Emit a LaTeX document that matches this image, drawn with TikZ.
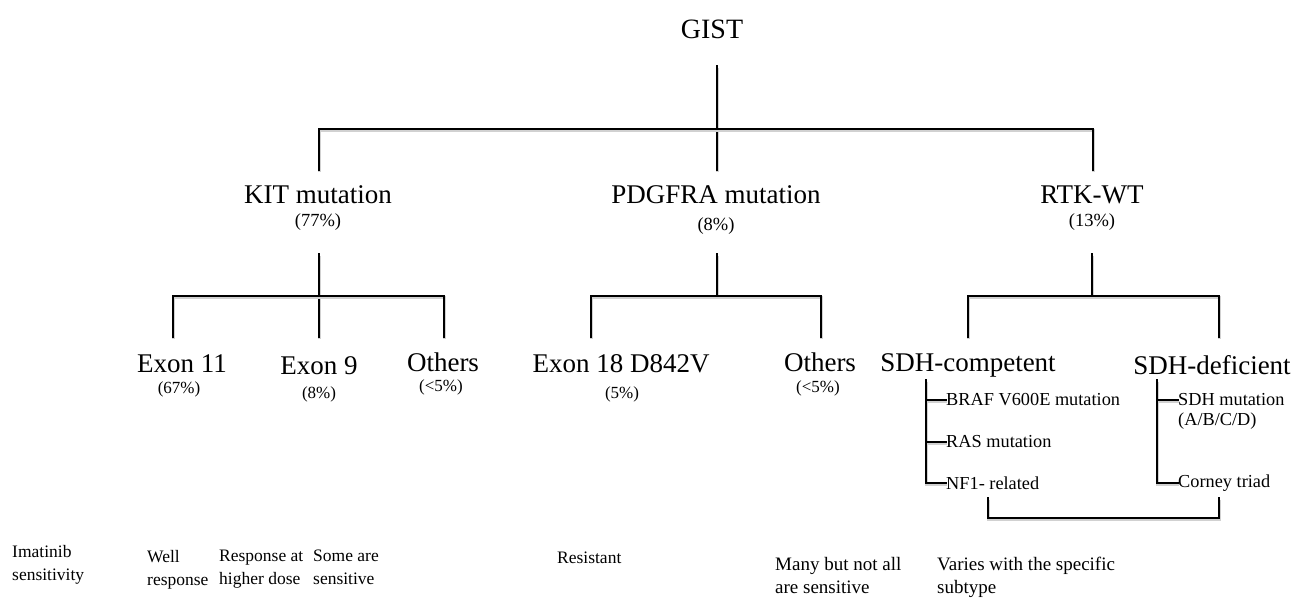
\documentclass[tikz,border=0pt]{standalone}
\usepackage{fontspec}
\setmainfont{Liberation Serif}
\begin{document}
\begin{tikzpicture}[x=1pt,y=-1pt,
  ln/.style={line width=2.2pt, line cap=rect,
    preaction={draw=black!18,line width=3pt,transform canvas={xshift=0.8pt,yshift=-1.8pt}}},
  big/.style={inner sep=0pt, font=\fontsize{27}{30}\selectfont},
  top/.style={inner sep=0pt, font=\fontsize{28}{30}\selectfont},
  pct/.style={inner sep=0pt, font=\fontsize{18.5}{20}\selectfont},
  spct/.style={inner sep=0pt, font=\fontsize{17}{19}\selectfont},
  sub/.style={inner sep=0pt, anchor=west, align=left, font=\fontsize{18.3}{21}\selectfont},
  bot/.style={inner sep=0pt, anchor=north west, align=left, font=\fontsize{17.5}{23}\selectfont},
  botb/.style={inner sep=0pt, anchor=north west, align=left, font=\fontsize{19}{23}\selectfont}]
\useasboundingbox (0,0) rectangle (1295,600);

% level 0
\node[top] (gist) at (712,29) {GIST};
% level 1
\node[big] (kit) at (318,195) {KIT mutation};
\node[pct] (kitp) at (318,222) {(77\%)};
\node[big] (pdg) at (716,195) {PDGFRA mutation};
\node[pct] (pdgp) at (716,226) {(8\%)};
\node[big] (rtk) at (1092,195) {RTK-WT};
\node[pct] (rtkp) at (1092,222) {(13\%)};
% level 2
\node[big] (e11) at (182,364) {Exon 11};
\node[spct] (e11p) at (179,389) {(67\%)};
\node[big] (e9) at (319,366) {Exon 9};
\node[spct] (e9p) at (319,394) {(8\%)};
\node[big] (ko) at (443,362) {Others};
\node[spct] (kop) at (441,387) {(<5\%)};
\node[big] (e18) at (621,364) {Exon 18 D842V};
\node[spct] (e18p) at (622,394) {(5\%)};
\node[big] (po) at (820,362) {Others};
\node[spct] (pop) at (818,388) {(<5\%)};
\node[big] (sdhc) at (968,365) {SDH-competent};
\node[big] (sdhd) at (1212,365) {SDH-deficient};
% sub items
\node[sub] (braf) at (946,400) {BRAF V600E mutation};
\node[sub] (ras) at (946,442) {RAS mutation};
\node[sub] (nf1) at (946,483) {NF1- related};
\node[sub] (sdhm) at (1178,400) {SDH mutation};
\node[sub] (abcd) at (1178,421) {(A/B/C/D)};
\node[sub] (corn) at (1178,483) {Corney triad};

% connectors: level 0 -> 1
\coordinate (g0) at (717,66);
\coordinate (g1) at (717,170);
\coordinate (gl) at (319,129);
\coordinate (gr) at (1093,129);
\coordinate (gld) at (319,170);
\coordinate (grd) at (1093,170);
\draw[ln] (g0) -- (g1);
\draw[ln] (gld) -- (gl) -- (gr) -- (grd);

% KIT
\coordinate (k0) at (319,254);
\coordinate (k1) at (319,337);
\coordinate (kl) at (173,296);
\coordinate (kr) at (444,296);
\coordinate (kld) at (173,337);
\coordinate (krd) at (444,337);
\draw[ln] (k0) -- (k1);
\draw[ln] (kld) -- (kl) -- (kr) -- (krd);

% PDGFRA
\coordinate (p0) at (717,254);
\coordinate (p1) at (717,296);
\coordinate (pl) at (591,296);
\coordinate (pr) at (821,296);
\coordinate (pld) at (591,337);
\coordinate (prd) at (821,337);
\draw[ln] (p0) -- (p1);
\draw[ln] (pld) -- (pl) -- (pr) -- (prd);

% RTK
\coordinate (r0) at (1092,254);
\coordinate (r1) at (1092,296);
\coordinate (rl) at (968,296);
\coordinate (rr) at (1219,296);
\coordinate (rld) at (968,337);
\coordinate (rrd) at (1219,337);
\draw[ln] (r0) -- (r1);
\draw[ln] (rld) -- (rl) -- (rr) -- (rrd);

% SDH-competent list
\coordinate (c0) at (926,380);
\draw[ln] (c0) |- (nf1.west);
\draw[ln] (c0 |- braf.west) -- (braf.west);
\draw[ln] (c0 |- ras.west) -- (ras.west);
% SDH-deficient list
\coordinate (d0) at (1157,380);
\draw[ln] (d0) |- (corn.west);
\draw[ln] (d0 |- sdhm.west) -- (sdhm.west);

% bottom bracket
\coordinate (b1) at (988,498);
\coordinate (b2) at (1219,498);
\draw[ln] (b1) -- (988,518) -- (1219,518) -- (b2);

% bottom row
\node[bot] (imat) at (12,545) {Imatinib\\sensitivity};
\node[bot] (well) at (147,550) {Well\\response};
\node[bot] (resp) at (219,550) {Response at\\higher dose};
\node[bot] (some) at (313,550) {Some are\\sensitive};
\node[bot] (resi) at (557,552) {Resistant};
\node[botb] (many) at (775,557) {Many but not all\\are sensitive};
\node[botb] (vari) at (937,557) {Varies with the specific\\subtype};
\end{tikzpicture}
\end{document}
